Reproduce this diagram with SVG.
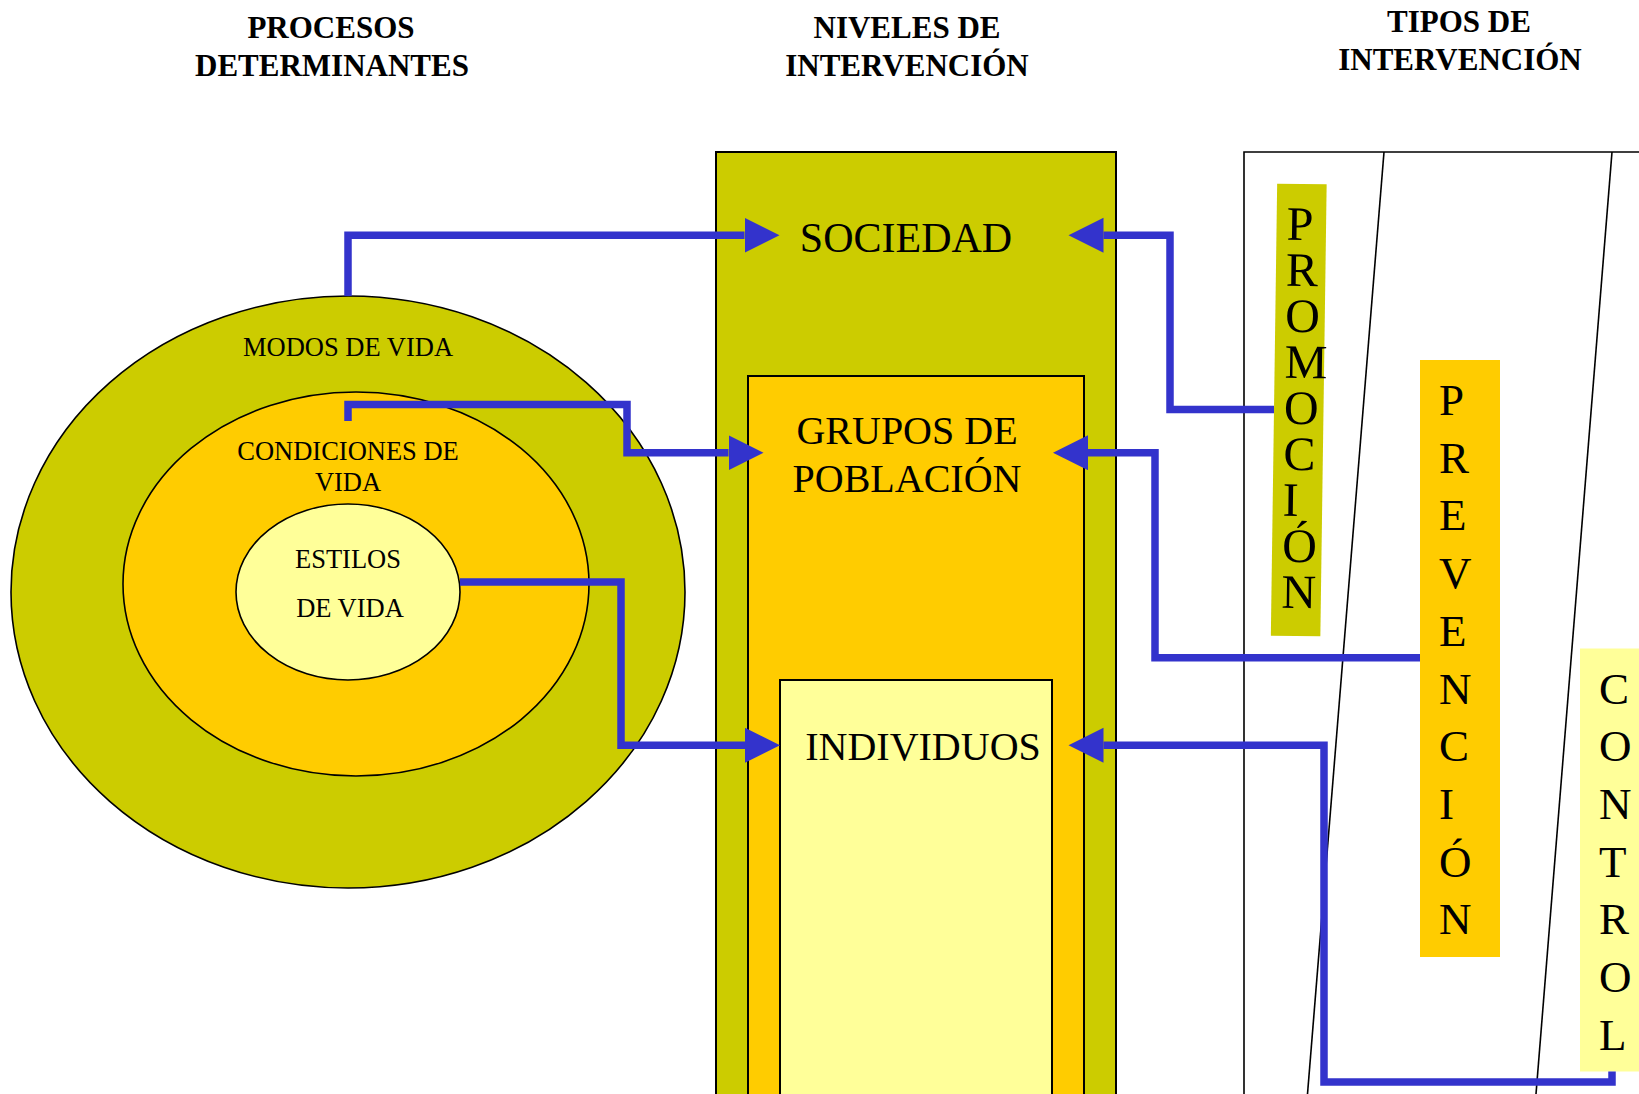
<svg xmlns="http://www.w3.org/2000/svg" width="1639" height="1094" viewBox="0 0 1639 1094">
<style>
.t{font-family:"Liberation Serif","Times New Roman",serif;fill:#000}
.h{font-size:31px;font-weight:bold;text-anchor:middle}
.e{font-size:26.5px;text-anchor:middle}
.n{font-size:40px;text-anchor:middle}
.v{font-size:45px}
.c{fill:none;stroke:#3333CC;stroke-width:7.5}
.bl{stroke:#000;stroke-width:1.6}
</style>
<defs>
<marker id="ah" markerUnits="userSpaceOnUse" markerWidth="36" markerHeight="36" refX="0" refY="17.5" orient="auto" viewBox="0 0 36 36">
<path d="M0,0 L35,17.5 L0,35 Z" fill="#3333CC"/>
</marker>
</defs>
<rect width="1639" height="1094" fill="#fff"/>

<g id="headers">
<text class="t h" x="331" y="38">PROCESOS</text>
<text class="t h" x="332" y="76">DETERMINANTES</text>
<text class="t h" x="907" y="38">NIVELES DE</text>
<text class="t h" x="907" y="76">INTERVENCIÓN</text>
<text class="t h" x="1459" y="32">TIPOS DE</text>
<text class="t h" x="1460" y="70">INTERVENCIÓN</text>
</g>

<g id="modos-de-vida">
<ellipse cx="348" cy="592" rx="337" ry="296" fill="#CCCC00" class="bl"/>
<text class="t e" x="348" y="356">MODOS DE VIDA</text>
</g>
<g id="condiciones-de-vida">
<ellipse cx="356" cy="584" rx="233" ry="192" fill="#FFCC00" class="bl"/>
<text class="t e" x="348" y="460">CONDICIONES DE</text>
<text class="t e" x="348" y="491">VIDA</text>
</g>
<g id="estilos-de-vida">
<ellipse cx="348" cy="592" rx="112" ry="88" fill="#FFFF99" class="bl"/>
<text class="t e" x="348" y="568">ESTILOS</text>
<text class="t e" x="350" y="617">DE VIDA</text>
</g>

<g id="sociedad">
<rect x="716" y="152" width="400" height="960" fill="#CCCC00" stroke="#000" stroke-width="2"/>
<text class="t n" x="906" y="252" style="font-size:42px">SOCIEDAD</text>
</g>
<g id="grupos-de-poblacion">
<rect x="748" y="376" width="336" height="740" fill="#FFCC00" stroke="#000" stroke-width="2"/>
<text class="t n" x="907" y="444">GRUPOS DE</text>
<text class="t n" x="907" y="492">POBLACIÓN</text>
</g>
<g id="individuos">
<rect x="780" y="680" width="272" height="440" fill="#FFFF99" stroke="#000" stroke-width="2"/>
<text class="t n" x="923" y="760">INDIVIDUOS</text>
</g>

<g id="tipos-frame">
<path d="M1244,1100 V152 H1645" fill="none" class="bl"/>
<line x1="1384" y1="152" x2="1307.5" y2="1094" class="bl"/>
<line x1="1612" y1="152" x2="1536" y2="1094" class="bl"/>
</g>

<g id="promocion" transform="rotate(0.8 1299 410)">
<rect x="1274" y="184" width="49.5" height="452" fill="#CCCC00"/>
<text class="t" style="font-size:48px" x="1284">
<tspan x="1284" y="240">P</tspan><tspan x="1284" y="286">R</tspan><tspan x="1284" y="332">O</tspan><tspan x="1284" y="378">M</tspan><tspan x="1284" y="424">O</tspan><tspan x="1284" y="470">C</tspan><tspan x="1284" y="516">I</tspan><tspan x="1284" y="562">Ó</tspan><tspan x="1284" y="608">N</tspan>
</text>
</g>

<g id="prevencion">
<rect x="1420" y="360" width="80" height="597" fill="#FFCC00"/>
<text class="t v" x="1439">
<tspan x="1439" y="415">P</tspan><tspan x="1439" y="472.7">R</tspan><tspan x="1439" y="530.4">E</tspan><tspan x="1439" y="588.1">V</tspan><tspan x="1439" y="645.8">E</tspan><tspan x="1439" y="703.5">N</tspan><tspan x="1439" y="761.2">C</tspan><tspan x="1439" y="818.9">I</tspan><tspan x="1439" y="876.6">Ó</tspan><tspan x="1439" y="934.3">N</tspan>
</text>
</g>

<g id="control">
<rect x="1580" y="648.5" width="70" height="423" fill="#FFFF99"/>
<text class="t v" x="1599">
<tspan x="1599" y="703.5">C</tspan><tspan x="1599" y="761.2">O</tspan><tspan x="1599" y="818.9">N</tspan><tspan x="1599" y="876.6">T</tspan><tspan x="1599" y="934.3">R</tspan><tspan x="1599" y="992">O</tspan><tspan x="1599" y="1049.7">L</tspan>
</text>
</g>

<g id="connectors">
<path class="c" d="M348,296 V235.3 H744.5" marker-end="url(#ah)"/>
<path class="c" d="M348,421 V404.5 H627 V452.7 H728.5" marker-end="url(#ah)"/>
<path class="c" d="M460,582 H621 V745.3 H745" marker-end="url(#ah)"/>
<path class="c" d="M1274,409.5 H1170 V235.3 H1103.5" marker-end="url(#ah)"/>
<path class="c" d="M1420,657.7 H1155 V452.7 H1088" marker-end="url(#ah)"/>
<path class="c" d="M1612,1071.5 V1082 H1324 V745.3 H1103.5" marker-end="url(#ah)"/>
</g>
</svg>
